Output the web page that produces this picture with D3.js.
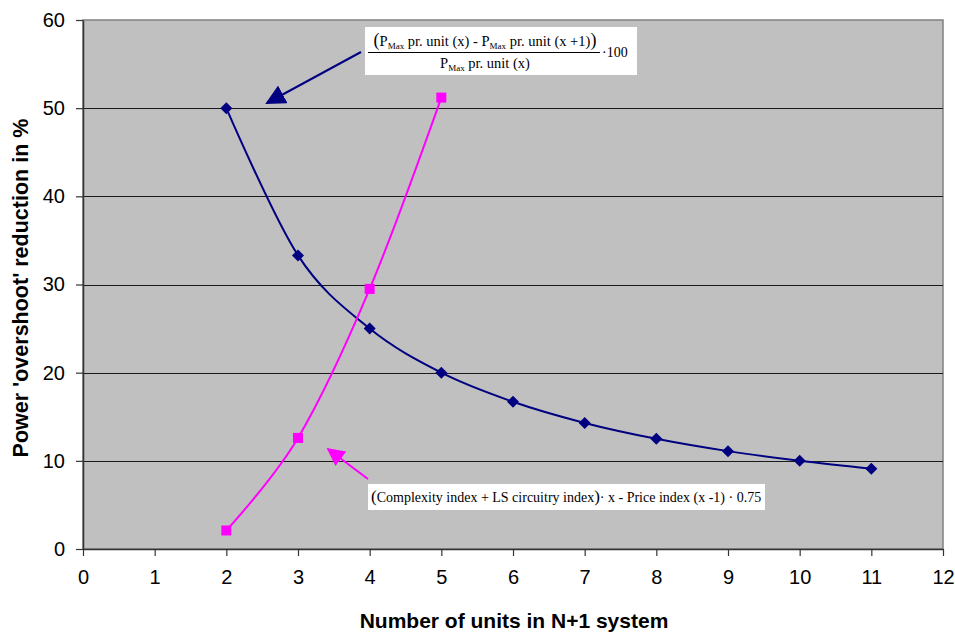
<!DOCTYPE html>
<html>
<head>
<meta charset="utf-8">
<script src="https://cdn.jsdelivr.net/npm/d3@7"></script>
<style>
  body { margin: 0; background: #fff; }
  text { font-family: Arial, "Liberation Sans", sans-serif; }
  .formula text { font-family: "Liberation Serif", "Times New Roman", serif; fill: #000; }
</style>
</head>
<body>
<div id="chart"></div>
<script>
// data
var units = [2, 3, 4, 5, 6, 7, 8, 9, 10, 11];
var overshoot = [50, 33.3, 25, 20, 16.7, 14.3, 12.5, 11.1, 10, 9.1];
var unitsPrice = [2, 3, 4, 5];
var priceCurve = [2.1, 12.6, 29.5, 51.2];
var xTicks = [0, 1, 2, 3, 4, 5, 6, 7, 8, 9, 10, 11, 12];
var yTicks = [0, 10, 20, 30, 40, 50, 60];

var width = 955, height = 633;
var margin = {top: 20, right: 12, bottom: 84, left: 83};
var widthp = width - margin.left - margin.right;
var heightp = height - margin.top - margin.bottom;

var svg = d3.select("#chart").append("svg")
  .attr("width", width)
  .attr("height", height);

var g = svg.append("g")
  .attr("transform", "translate(" + margin.left + "," + margin.top + ")");

var xScale = d3.scaleLinear().domain([0, 12]).range([0, widthp]);
var yScale = d3.scaleLinear().domain([0, 60]).range([heightp, 0]);

// plot area
g.append("rect")
  .attr("width", widthp)
  .attr("height", heightp)
  .attr("fill", "#c0c0c0")
  .attr("stroke", "#808080")
  .attr("stroke-width", 1.5);

// gridlines
g.selectAll("line.grid")
  .data(yTicks.filter(function(d) { return d > 0 && d < 60; }))
  .enter().append("line")
  .attr("class", "grid")
  .attr("x1", 0).attr("x2", widthp)
  .attr("y1", function(d) { return Math.round(yScale(d)) + 0.5; })
  .attr("y2", function(d) { return Math.round(yScale(d)) + 0.5; })
  .attr("stroke", "#1a1a1a")
  .attr("stroke-width", 1);

// axes
var xAxis = g.append("g")
  .attr("transform", "translate(0," + heightp + ")")
  .call(d3.axisBottom(xScale).tickValues(xTicks).tickSize(7).tickSizeOuter(0).tickPadding(14));
var yAxis = g.append("g")
  .call(d3.axisLeft(yScale).tickValues(yTicks).tickSize(7).tickSizeOuter(0).tickPadding(11));

[xAxis, yAxis].forEach(function(a) {
  a.select(".domain").attr("stroke", "#333").attr("stroke-width", 1.5);
  a.selectAll(".tick line").attr("stroke", "#333").attr("stroke-width", 1.2);
  a.selectAll(".tick text")
    .attr("fill", "#000")
    .style("font-size", "20px")
    .style("font-family", "Arial, 'Liberation Sans', sans-serif");
});

// axis titles
svg.append("text")
  .attr("x", 514)
  .attr("y", 628)
  .attr("text-anchor", "middle")
  .style("font-size", "21px")
  .style("font-weight", "bold")
  .text("Number of units in N+1 system");

svg.append("text")
  .attr("transform", "translate(28,288) rotate(-90)")
  .attr("text-anchor", "middle")
  .style("font-size", "21.5px")
  .style("font-weight", "bold")
  .text("Power 'overshoot' reduction in %");

// lines
var blueData = units.map(function(d, i) { return {x: d, y: overshoot[i]}; });
var pinkData = unitsPrice.map(function(d, i) { return {x: d, y: priceCurve[i]}; });

var line = d3.line()
  .curve(d3.curveCardinal.tension(0))
  .x(function(d) { return xScale(d.x); })
  .y(function(d) { return yScale(d.y); });

g.append("path")
  .datum(blueData)
  .attr("fill", "none")
  .attr("stroke", "#000080")
  .attr("stroke-width", 2)
  .attr("d", line);

g.append("path")
  .datum(pinkData)
  .attr("fill", "none")
  .attr("stroke", "#ff00ff")
  .attr("stroke-width", 2)
  .attr("d", line);

// markers
g.selectAll("path.diamond")
  .data(blueData)
  .enter().append("path")
  .attr("class", "diamond")
  .attr("d", "M0,-6L6,0L0,6L-6,0Z")
  .attr("transform", function(d) { return "translate(" + xScale(d.x) + "," + yScale(d.y) + ")"; })
  .attr("fill", "#000080");

g.selectAll("rect.square")
  .data(pinkData)
  .enter().append("rect")
  .attr("class", "square")
  .attr("x", function(d) { return xScale(d.x) - 5; })
  .attr("y", function(d) { return yScale(d.y) - 5; })
  .attr("width", 10).attr("height", 10)
  .attr("fill", "#ff00ff");

// arrows
var defs = svg.append("defs");
function arrowHead(id, color, size) {
  defs.append("marker")
    .attr("id", id)
    .attr("viewBox", "0 0 10 10")
    .attr("refX", 9).attr("refY", 5)
    .attr("markerWidth", size).attr("markerHeight", size)
    .attr("markerUnits", "userSpaceOnUse")
    .attr("orient", "auto")
    .append("path")
    .attr("d", "M0,0L10,5L0,10Z")
    .attr("fill", color);
}
arrowHead("headBlue", "#000080", 20);
arrowHead("headPink", "#ff00ff", 18);

svg.append("line")
  .attr("x1", 361).attr("y1", 52)
  .attr("x2", 267).attr("y2", 103)
  .attr("stroke", "#000080").attr("stroke-width", 2)
  .attr("marker-end", "url(#headBlue)");

svg.append("line")
  .attr("x1", 368).attr("y1", 479)
  .attr("x2", 328).attr("y2", 449)
  .attr("stroke", "#ff00ff").attr("stroke-width", 2)
  .attr("marker-end", "url(#headPink)");

// formula boxes
var f1 = svg.append("g").attr("class", "formula");
f1.append("rect")
  .attr("x", 365).attr("y", 27).attr("width", 272).attr("height", 48)
  .attr("fill", "#fff");
var num = f1.append("text").attr("x", 485).attr("y", 46).attr("text-anchor", "middle").style("font-size", "14.5px");
num.append("tspan").style("font-size", "18px").text("(");
num.append("tspan").text("P");
num.append("tspan").attr("dy", 3).style("font-size", "9px").text("Max");
num.append("tspan").attr("dy", -3).text("  pr. unit (x) - P");
num.append("tspan").attr("dy", 3).style("font-size", "9px").text("Max");
num.append("tspan").attr("dy", -3).text("  pr. unit (x +1)");
num.append("tspan").style("font-size", "18px").text(")");
f1.append("line")
  .attr("x1", 368).attr("x2", 600)
  .attr("y1", 52.5).attr("y2", 52.5)
  .attr("stroke", "#000").attr("stroke-width", 1);
var den = f1.append("text").attr("x", 485).attr("y", 68).attr("text-anchor", "middle").style("font-size", "14.5px");
den.append("tspan").text("P");
den.append("tspan").attr("dy", 3).style("font-size", "9px").text("Max");
den.append("tspan").attr("dy", -3).text("  pr. unit (x)");
f1.append("text").attr("x", 602).attr("y", 57).style("font-size", "14px").text("\u00b7100");

var f2 = svg.append("g").attr("class", "formula");
f2.append("rect")
  .attr("x", 368).attr("y", 484).attr("width", 397).attr("height", 26)
  .attr("fill", "#fff");
var t2 = f2.append("text").attr("x", 371).attr("y", 502).style("font-size", "14px");
t2.append("tspan").style("font-size", "17px").text("(");
t2.append("tspan").text("Complexity index + LS circuitry index");
t2.append("tspan").style("font-size", "17px").text(")");
t2.append("tspan").text("\u00b7 x - Price index (x -1) \u00b7 0.75");
</script>
</body>
</html>
